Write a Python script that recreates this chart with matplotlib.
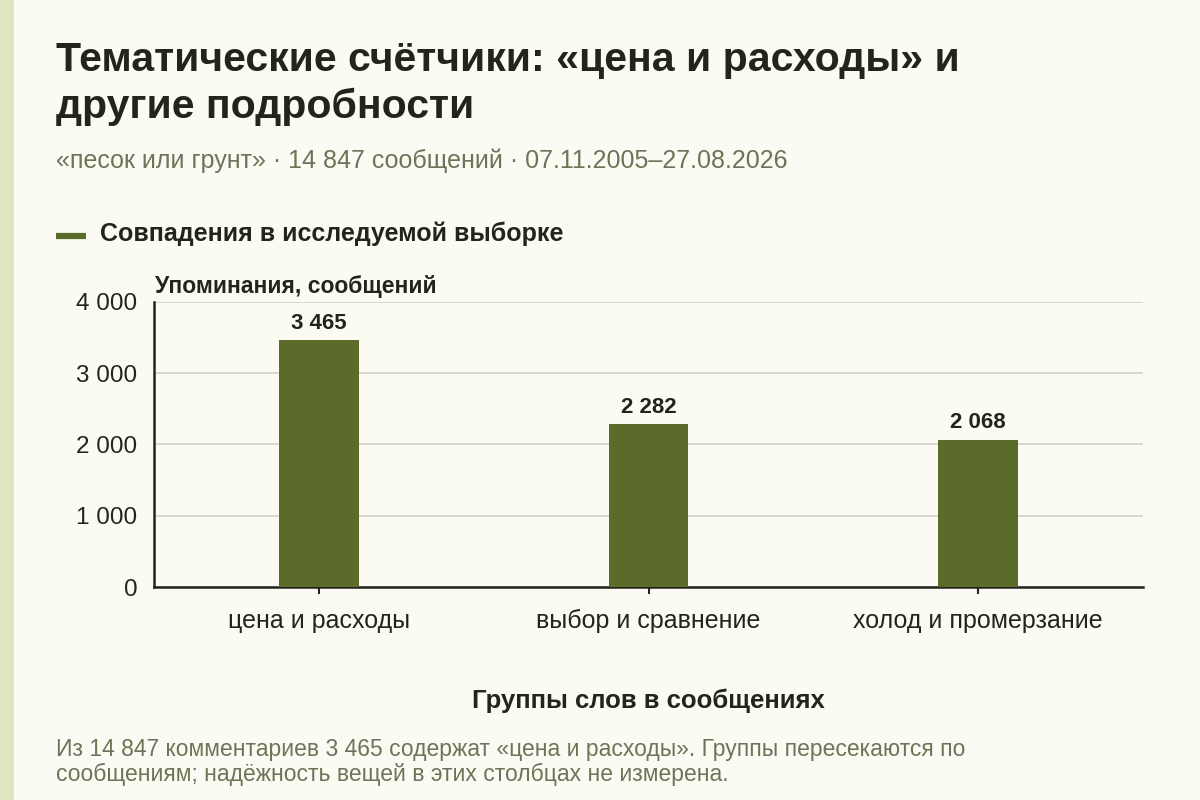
import matplotlib.pyplot as plt
from matplotlib.patches import Rectangle
from matplotlib.lines import Line2D

plt.rcParams['font.family'] = ['Liberation Sans', 'DejaVu Sans']

# данные
categories = ['цена и расходы', 'выбор и сравнение', 'холод и промерзание']
values = [3465, 2282, 2068]
yticks = [0, 1000, 2000, 3000, 4000]
ytick_labels = ['0', '1 000', '2 000', '3 000', '4 000']

bg = '#fcfbf3'
bar_color = '#5b6b29'
dark = '#23251c'
muted = '#6f7358'

W, H = 1200, 800
fig = plt.figure(figsize=(12, 8), dpi=100, facecolor=bg)
fig.patches.append(Rectangle((0, 0), 14 / W, 1, transform=fig.transFigure,
                             facecolor='#dfe5c0', edgecolor='none'))

ax = fig.add_axes([154 / W, 1 - 587 / H, (1143 - 154) / W, (587 - 302) / H])
ax.set_facecolor(bg)

x = range(len(categories))
ax.bar(x, values, width=0.242, color=bar_color, zorder=3)
for xi, v in zip(x, values):
    ax.annotate(f'{v:,}'.replace(',', ' '), (xi, v), xytext=(0, 4.5),
                textcoords='offset points', ha='center', va='bottom',
                fontsize=16, fontweight='bold', color=dark)

ax.set_xlim(-0.5, 2.5)
ax.set_ylim(0, 4000)
ax.set_xticks(list(x))
ax.set_xticklabels(categories)
ax.set_yticks(yticks)
ax.set_yticklabels(ytick_labels)
ax.tick_params(axis='y', length=0, pad=12, labelsize=17.5, labelcolor=dark)
ax.tick_params(axis='x', length=5, width=1.5, color=dark, pad=11, labelsize=18, labelcolor=dark)
ax.grid(axis='y', color='#d3d2c8', linewidth=1.2, zorder=0)
for s in ['top', 'right']:
    ax.spines[s].set_visible(False)
for s in ['left', 'bottom']:
    ax.spines[s].set_color(dark)
    ax.spines[s].set_linewidth(1.8)

ax.set_xlabel('Группы слов в сообщениях', fontsize=18.5, fontweight='bold', color=dark)
ax.xaxis.label.set_va('center')
ax.xaxis.set_label_coords(0.5, (587 - 701) / 285)

fig.text(155 / W, 1 - 293 / H, 'Упоминания, сообщений', ha='left', va='baseline',
         fontsize=16.5, fontweight='bold', color=dark)

# заголовок и подписи
for line, base in [('Тематические счётчики: «цена и расходы» и', 71),
                   ('другие подробности', 118)]:
    fig.text(56 / W, 1 - base / H, line, fontsize=29.5, fontweight='bold',
             color=dark, va='baseline')
fig.text(56 / W, 1 - 168 / H, '«песок или грунт» · 14 847 сообщений · 07.11.2005–27.08.2026',
         fontsize=18, color=muted, va='baseline')

fig.lines.append(Line2D([56 / W, 86 / W], [1 - 236 / H, 1 - 236 / H],
                        transform=fig.transFigure, color=bar_color, linewidth=4.5,
                        solid_capstyle='butt'))
fig.text(100 / W, 1 - 241 / H, 'Совпадения в исследуемой выборке',
         fontsize=18, fontweight='bold', color=dark, va='baseline')

for line, base in [('Из 14 847 комментариев 3 465 содержат «цена и расходы». Группы пересекаются по', 756),
                   ('сообщениям; надёжность вещей в этих столбцах не измерена.', 781)]:
    fig.text(56 / W, 1 - base / H, line, fontsize=16.5, color=muted, va='baseline')

fig.savefig('out.png', dpi=100, facecolor=bg)
